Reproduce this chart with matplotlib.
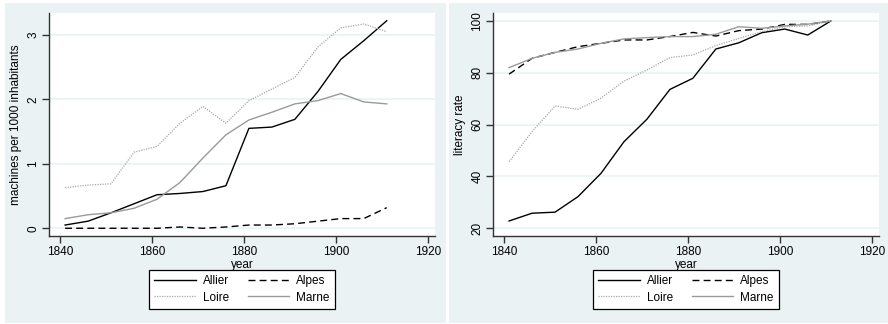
import matplotlib.pyplot as plt
from matplotlib.patches import Rectangle

years = [1841, 1846, 1851, 1856, 1861, 1866, 1871, 1876, 1881, 1886, 1891, 1896, 1901, 1906, 1911]

machines_allier = [0.05, 0.11, 0.24, 0.38, 0.52, 0.54, 0.57, 0.66, 1.55, 1.57, 1.69, 2.12, 2.62, 2.91, 3.22]
machines_alpes = [0.0, 0.0, 0.0, 0.0, 0.0, 0.02, 0.0, 0.02, 0.05, 0.05, 0.07, 0.11, 0.15, 0.15, 0.32]
machines_loire = [0.63, 0.67, 0.69, 1.18, 1.27, 1.63, 1.89, 1.63, 1.98, 2.16, 2.34, 2.81, 3.11, 3.17, 3.05]
machines_marne = [0.15, 0.21, 0.24, 0.31, 0.45, 0.71, 1.09, 1.45, 1.68, 1.80, 1.93, 1.98, 2.09, 1.96, 1.93]

literacy_allier = [22.8, 25.8, 26.2, 32.2, 41.2, 53.4, 62.1, 73.6, 77.9, 89.2, 91.6, 95.5, 96.9, 94.6, 100.0]
literacy_alpes = [79.5, 85.6, 87.9, 90.1, 91.4, 92.7, 92.7, 94.0, 95.6, 94.2, 96.3, 96.9, 98.7, 98.7, 100.0]
literacy_loire = [45.7, 57.3, 67.2, 65.9, 70.2, 76.8, 81.1, 85.9, 86.9, 90.5, 93.3, 95.9, 97.8, 98.1, 100.0]
literacy_marne = [82.0, 85.6, 87.9, 89.2, 91.4, 93.1, 93.6, 94.0, 94.0, 94.9, 97.8, 97.2, 98.1, 98.8, 100.0]

series_names = ["Allier", "Alpes", "Loire", "Marne"]
x_ticks = [1840, 1860, 1880, 1900, 1920]

W, H = 888, 324
BG = "#eaf2f3"
AXIS = "#333333"

plt.rcParams["font.family"] = ["Liberation Sans", "DejaVu Sans"]
plt.rcParams["font.size"] = 8.5

styles = [
    dict(color="black", linewidth=1.0, linestyle="-"),
    dict(color="black", linewidth=1.0, linestyle=(0, (5, 3))),
    dict(color="#a8a8a8", linewidth=0.9, linestyle=(0, (1, 1))),
    dict(color="#9a9a9a", linewidth=1.0, linestyle="-"),
]


def fig_rect(x0, y0, x1, y1):
    # pixel box (top-left origin) -> figure fraction [l, b, w, h]
    return [x0 / W, 1 - y1 / H, (x1 - x0) / W, (y1 - y0) / H]


def draw_panel(fig, offset, data, ylabel, yticks, ylim):
    l, b, w, h = fig_rect(5 + offset, 3, 446 + offset, 323)
    fig.patches.append(Rectangle((l, b), w, h, transform=fig.transFigure,
                                 facecolor=BG, edgecolor="none", zorder=-10))

    ax = fig.add_axes(fig_rect(49 + offset, 13, 435 + offset, 236))
    ax.set_facecolor("white")
    lines = []
    for values, style, name in zip(data, styles, series_names):
        lines += ax.plot(years, values, label=name, **style)

    ax.set_xlim(1837.5, 1921.5)
    ax.set_ylim(*ylim)
    ax.set_xticks(x_ticks)
    ax.set_yticks(yticks)
    ax.set_yticklabels([str(t) for t in yticks], rotation=90, va="center")
    ax.grid(axis="y", color=BG, linewidth=1.2)
    ax.set_axisbelow(True)
    for side in ["top", "right"]:
        ax.spines[side].set_visible(False)
    for side in ["left", "bottom"]:
        ax.spines[side].set_color(AXIS)
        ax.spines[side].set_linewidth(1.0)
    ax.tick_params(length=5, width=1.0, color=AXIS, pad=2, labelsize=8.5)
    ax.set_xlabel("year", labelpad=1)
    ax.set_ylabel(ylabel, labelpad=4)

    # legend fills row by row: Allier, Alpes / Loire, Marne
    order = [0, 2, 1, 3]
    cx = (242 + offset) / W
    cy = 1 - 289.5 / H
    leg = ax.legend([lines[i] for i in order], [series_names[i] for i in order],
                    loc="center", bbox_to_anchor=(cx, cy), bbox_transform=fig.transFigure,
                    ncol=2, fancybox=False, framealpha=1, edgecolor="black",
                    handlelength=3.5, handletextpad=0.6, columnspacing=1.6,
                    borderpad=0.45, labelspacing=0.35, fontsize=8.5)
    leg.get_frame().set_linewidth(0.9)
    return ax


fig = plt.figure(figsize=(W / 100, H / 100), dpi=100)
fig.patch.set_facecolor("white")

draw_panel(fig, 0,
           [machines_allier, machines_alpes, machines_loire, machines_marne],
           "machines per 1000 inhabitants", [0, 1, 2, 3], (-0.12, 3.34))
draw_panel(fig, 444,
           [literacy_allier, literacy_alpes, literacy_loire, literacy_marne],
           "literacy rate", [20, 40, 60, 80, 100], (17.0, 103.1))

fig.savefig("out.png", dpi=100)
